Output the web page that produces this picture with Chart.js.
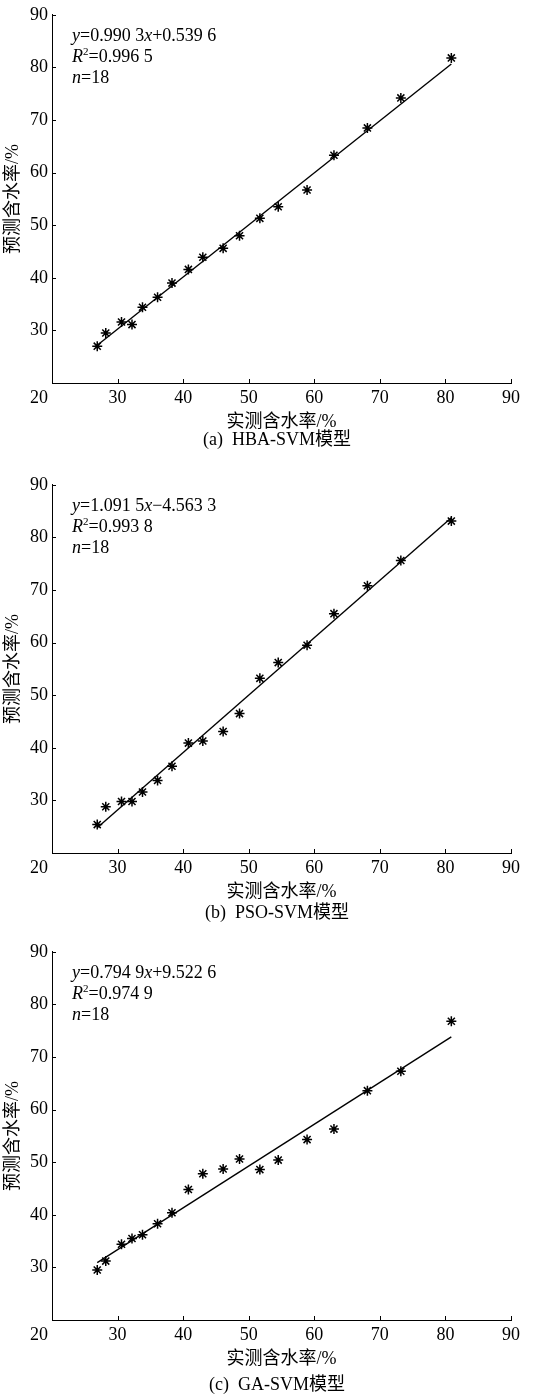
<!DOCTYPE html>
<html>
<head>
<meta charset="utf-8">
<script src="https://cdn.jsdelivr.net/npm/chart.js@4.4.1/dist/chart.umd.min.js"></script>
<style>
body { margin:0; background:#fff; width:533px; height:1397px; position:relative; overflow:hidden; }
.panel { position:absolute; left:0; width:533px; height:460px; }
</style>
</head>
<body>
<div class="panel" style="top:0px"><canvas id="chartA" width="533" height="460"></canvas></div>
<div class="panel" style="top:470px"><canvas id="chartB" width="533" height="460"></canvas></div>
<div class="panel" style="top:937px"><canvas id="chartC" width="533" height="460"></canvas></div>
<script>
// measured moisture content (x), same samples in every panel
var measured = [26.9, 28.2, 30.6, 32.2, 33.8, 36.1, 38.3, 40.8, 43.0, 46.1, 48.6, 51.7, 54.5, 58.9, 63.0, 68.1, 73.2, 80.9];

// predicted moisture content per model
var hbaPred = [27.0, 29.5, 31.6, 31.1, 34.4, 36.3, 39.0, 41.6, 43.9, 45.6, 48.0, 51.3, 53.5, 56.7, 63.3, 68.5, 74.2, 81.8];
var psoPred = [25.4, 28.8, 29.8, 29.8, 31.6, 33.8, 36.5, 40.9, 41.3, 43.1, 46.5, 53.2, 56.2, 59.5, 65.5, 70.8, 75.6, 83.1];
var gaPred  = [29.5, 31.2, 34.4, 35.5, 36.2, 38.3, 40.4, 44.8, 47.8, 48.7, 50.6, 48.6, 50.4, 54.3, 56.3, 63.6, 67.3, 76.8];

// fitted lines y = k*x + b
var slopes = [0.9903, 1.0915, 0.7949];
var intercepts = [0.5396, -4.5633, 9.5226];
var slopeText = ['0.990 3', '1.091 5', '0.794 9'];
var interceptText = ['+0.539 6', '\u22124.563 3', '+9.522 6'];
var r2Text = ['0.996 5', '0.993 8', '0.974 9'];
var sampleCount = 18;

var captions = ['(a)  HBA-SVM模型', '(b)  PSO-SVM模型', '(c)  GA-SVM模型'];
var captionY = [440, 443, 448];

var tickValues = [20, 30, 40, 50, 60, 70, 80, 90];
var xTitle = '实测含水率/%';
var yTitle = '预测含水率/%';

var FONT = '"Liberation Serif", "Times New Roman", "Noto Sans CJK SC", serif';

function drawRuns(ctx, x, y, runs) {
    runs.forEach(function(r) {
        var size = r.sup ? 11 : 18;
        ctx.font = (r.it ? 'italic ' : '') + size + 'px ' + FONT;
        ctx.fillText(r.t, x, r.sup ? y - 7 : y);
        x += ctx.measureText(r.t).width;
    });
}

var decorPlugin = {
    id: 'decor',
    afterDraw: function(chart) {
        var ctx = chart.ctx, a = chart.chartArea;
        var xs = chart.scales.x, ys = chart.scales.y;
        var i = chart.options.plugins.decor.index;
        ctx.save();
        ctx.strokeStyle = '#000';
        ctx.lineWidth = 1;
        ctx.beginPath();
        tickValues.forEach(function(v) {
            var px = Math.round(xs.getPixelForValue(v)) + 0.5;
            ctx.moveTo(px, a.bottom);
            ctx.lineTo(px, a.bottom - 4);
            var py = Math.round(ys.getPixelForValue(v)) + 0.5;
            ctx.moveTo(a.left, py);
            ctx.lineTo(a.left + 4, py);
        });
        ctx.stroke();

        ctx.fillStyle = '#000';
        ctx.textBaseline = 'alphabetic';
        // corner label for 20
        ctx.font = '18px ' + FONT;
        ctx.textAlign = 'center';
        ctx.fillText('20', a.left - 13, a.bottom + 20);
        ctx.textAlign = 'left';

        var tx = a.left + 20;
        drawRuns(ctx, tx, a.top + 26, [
            {t: 'y', it: true}, {t: '=' + slopeText[i]}, {t: 'x', it: true}, {t: interceptText[i]}
        ]);
        drawRuns(ctx, tx, a.top + 47, [
            {t: 'R', it: true}, {t: '2', sup: true}, {t: '=' + r2Text[i]}
        ]);
        drawRuns(ctx, tx, a.top + 68, [
            {t: 'n', it: true}, {t: '=' + sampleCount}
        ]);

        ctx.font = '18px ' + FONT;
        ctx.textAlign = 'center';
        ctx.textBaseline = 'middle';
        ctx.fillText(captions[i], 277, captionY[i]);
        ctx.restore();
    }
};

function makeChart(id, preds, i) {
    var pts = measured.map(function(x, j) { return {x: x, y: preds[j]}; });
    var x0 = Math.min.apply(null, measured), x1 = Math.max.apply(null, measured);
    var fit = [x0, x1].map(function(x) { return {x: x, y: slopes[i] * x + intercepts[i]}; });

    return new Chart(document.getElementById(id).getContext('2d'), {
        type: 'scatter',
        data: {
            datasets: [{
                data: pts,
                pointStyle: 'star',
                pointRadius: 5,
                borderColor: '#000',
                borderWidth: 1.5,
                backgroundColor: '#000'
            }, {
                type: 'line',
                data: fit,
                showLine: true,
                borderColor: '#000',
                borderWidth: 1.4,
                pointRadius: 0,
                fill: false
            }]
        },
        options: {
            responsive: false,
            animation: false,
            devicePixelRatio: 1,
            layout: { padding: { top: 13, right: 22, left: 0, bottom: 27 } },
            plugins: {
                legend: { display: false },
                tooltip: { enabled: false },
                decor: { index: i }
            },
            scales: {
                x: {
                    type: 'linear', min: 20, max: 90,
                    afterFit: function(s) { s.height = 50; },
                    grid: { display: false, drawTicks: false },
                    border: { display: true, color: '#000', width: 1 },
                    ticks: {
                        stepSize: 10, padding: 4, color: '#000',
                        font: { family: FONT, size: 18 },
                        callback: function(v) { return v === 20 ? '' : v; }
                    },
                    title: {
                        display: true, text: xTitle, color: '#000',
                        font: { family: FONT, size: 18 },
                        padding: { top: 0, bottom: 0 }
                    }
                },
                y: {
                    type: 'linear', min: 20, max: 90,
                    afterFit: function(s) { s.width = 52; },
                    grid: { display: false, drawTicks: false },
                    border: { display: true, color: '#000', width: 1 },
                    ticks: {
                        stepSize: 10, padding: 4, color: '#000',
                        font: { family: FONT, size: 18 },
                        callback: function(v) { return v === 20 ? '' : v; }
                    },
                    title: {
                        display: true, text: yTitle, color: '#000',
                        font: { family: FONT, size: 18 },
                        padding: { top: 2, bottom: 0 }
                    }
                }
            }
        },
        plugins: [decorPlugin]
    });
}

makeChart('chartA', hbaPred, 0);
makeChart('chartB', psoPred, 1);
makeChart('chartC', gaPred, 2);
</script>
</body>
</html>
